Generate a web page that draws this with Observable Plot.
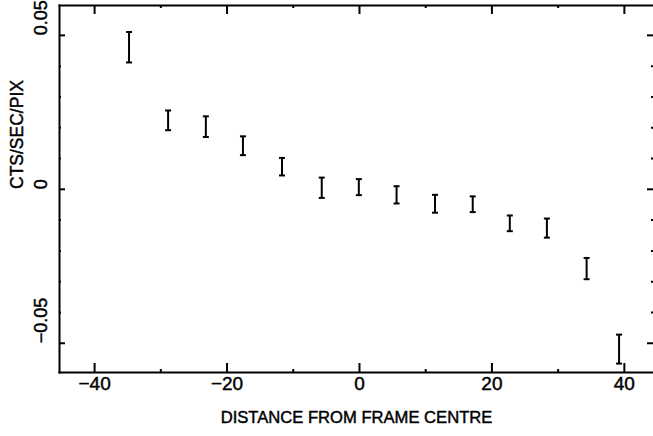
<!DOCTYPE html>
<html>
<head>
<meta charset="utf-8">
<script src="https://cdn.jsdelivr.net/npm/d3@7"></script>
<script src="https://cdn.jsdelivr.net/npm/@observablehq/plot@0.6"></script>
<style>
  html, body { margin: 0; padding: 0; background: #fff; }
  svg { display: block; }
</style>
</head>
<body>
<div id="chart"></div>
<script>
// Distance from frame centre (x) and error bar bounds (CTS/SEC/PIX)
const distance = [-34.8, -28.9, -23.2, -17.6, -11.7, -5.7, -0.1, 5.6, 11.4, 17.1, 22.7, 28.3, 34.3, 39.2];
const yHigh    = [0.0511, 0.0256, 0.0237, 0.0172, 0.0102, 0.0038, 0.0033, 0.0010, -0.0018, -0.0023, -0.0085, -0.0095, -0.0223, -0.0472];
const yLow     = [0.0412, 0.0192, 0.0170, 0.0111, 0.0045, -0.0028, -0.0019, -0.0046, -0.0076, -0.0074, -0.0136, -0.0157, -0.0292, -0.0566];

const xMajorTicks = [-40, -20, 0, 20, 40];
const xTickLabels = ["\u221240", "\u221220", "0", "20", "40"];
const xMinorTicks = [-30, -10, 10, 30];
const yMajorTicks = [-0.05, 0, 0.05];
const yTickLabels = ["\u22120.05", "0", "0.05"];
const yMinorTicks = [-0.04, -0.03, -0.02, -0.01, 0.01, 0.02, 0.03, 0.04];
const xLabel = "DISTANCE FROM FRAME CENTRE";
const yLabel = "CTS/SEC/PIX";

const data = distance.map((x, i) => ({x, lo: yLow[i], hi: yHigh[i]}));
const xTicksData = xMajorTicks.map((v, i) => ({v, label: xTickLabels[i]}));
const yTicksData = yMajorTicks.map((v, i) => ({v, label: yTickLabels[i]}));

// horizontal cap symbol for error bars
const capSymbol = {
  draw(context, size) {
    const r = Math.sqrt(size / Math.PI);
    context.moveTo(-r, 0);
    context.lineTo(r, 0);
  }
};

const W = 653, H = 436, ML = 59, MR = 0, MT = 5, MB = 64;
const PW = W - ML - MR, PH = H - MT - MB;
const font = "'Liberation Sans', Arial, Helvetica, sans-serif";
const txt = {fill: "#000", stroke: "#000", strokeWidth: 0.45};
const tk = {stroke: "#000", strokeWidth: 2};

const chart = Plot.plot({
  width: W,
  height: H,
  marginLeft: ML,
  marginRight: MR,
  marginTop: MT,
  marginBottom: MB,
  style: {fontFamily: font, background: "#fff", color: "#000"},
  x: {domain: [-45.3, 44.4], axis: null},
  y: {domain: [-0.0595, 0.0597], axis: null},
  marks: [
    // frame (left, top, bottom)
    Plot.frame({anchor: "left", strokeWidth: 2}),
    Plot.frame({anchor: "top", strokeWidth: 2}),
    Plot.frame({anchor: "bottom", strokeWidth: 2.2}),
    // inward ticks
    Plot.tickX(xMajorTicks, {x: d => d, insetTop: PH - 9, ...tk}),
    Plot.tickX(xMinorTicks, {x: d => d, insetTop: PH - 3, ...tk}),
    Plot.tickX(xMajorTicks, {x: d => d, insetBottom: PH - 9, ...tk}),
    Plot.tickX(xMinorTicks, {x: d => d, insetBottom: PH - 3, ...tk}),
    Plot.tickY(yMajorTicks, {y: d => d, insetRight: PW - 6, ...tk}),
    Plot.tickY(yMinorTicks, {y: d => d, insetRight: PW - 2, ...tk}),
    Plot.tickY(yMajorTicks, {y: d => d, insetLeft: PW - 6, ...tk}),
    Plot.tickY(yMinorTicks, {y: d => d, insetLeft: PW - 2, ...tk}),
    // tick labels
    Plot.text(xTicksData, {x: "v", text: "label", frameAnchor: "bottom", dy: 17, fontSize: 19, ...txt}),
    Plot.text(yTicksData, {y: "v", text: "label", frameAnchor: "left", dx: -18, rotate: -90, fontSize: 18, ...txt}),
    // axis titles
    Plot.text([xLabel], {frameAnchor: "bottom", dy: 50, fontSize: 16.6, ...txt}),
    Plot.text([yLabel], {frameAnchor: "left", dx: -42, rotate: -90, fontSize: 17.5, ...txt}),
    // error bars
    Plot.ruleX(data, {x: "x", y1: "lo", y2: "hi", stroke: "#000", strokeWidth: 2}),
    Plot.dot(data, {x: "x", y: "lo", symbol: capSymbol, r: 3, stroke: "#000", strokeWidth: 2, fill: "none"}),
    Plot.dot(data, {x: "x", y: "hi", symbol: capSymbol, r: 3, stroke: "#000", strokeWidth: 2, fill: "none"})
  ]
});

document.getElementById("chart").appendChild(chart);
</script>
</body>
</html>
